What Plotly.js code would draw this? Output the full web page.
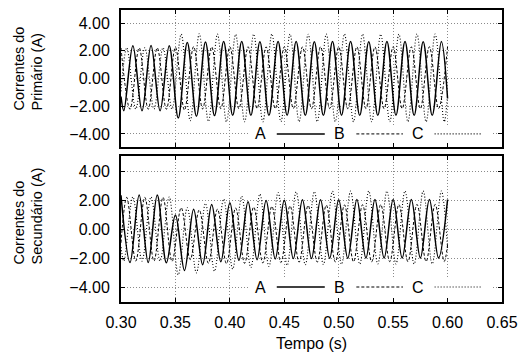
<!DOCTYPE html>
<html><head><meta charset="utf-8">
<script src="https://cdn.plot.ly/plotly-3.0.1.min.js"></script>
<style>html,body{margin:0;padding:0;background:#fff}#chart{width:520px;height:360px}</style>
</head><body><div id="chart"></div>
<script>
// Times (s) of the waveform extrema, plus the record ends
const timesG1 = [0.3000, 0.3026, 0.3109, 0.3193, 0.3276, 0.3359, 0.3443, 0.3526, 0.3609, 0.3693, 0.3776, 0.3859, 0.3943, 0.4026, 0.4109, 0.4193, 0.4276, 0.4359, 0.4443, 0.4526, 0.4609, 0.4693, 0.4776, 0.4859, 0.4943, 0.5026, 0.5109, 0.5193, 0.5276, 0.5359, 0.5443, 0.5526, 0.5609, 0.5693, 0.5776, 0.5859, 0.5943, 0.6000];
const timesG2 = [0.3000, 0.3083, 0.3167, 0.3250, 0.3333, 0.3417, 0.3500, 0.3583, 0.3667, 0.3750, 0.3833, 0.3917, 0.4000, 0.4083, 0.4167, 0.4250, 0.4333, 0.4417, 0.4500, 0.4583, 0.4667, 0.4750, 0.4833, 0.4917, 0.5000, 0.5083, 0.5167, 0.5250, 0.5333, 0.5417, 0.5500, 0.5583, 0.5667, 0.5750, 0.5833, 0.5917, 0.6000];
const timesG3 = [0.3000, 0.3053, 0.3136, 0.3219, 0.3303, 0.3386, 0.3469, 0.3553, 0.3636, 0.3719, 0.3803, 0.3886, 0.3969, 0.4053, 0.4136, 0.4219, 0.4303, 0.4386, 0.4469, 0.4553, 0.4636, 0.4719, 0.4803, 0.4886, 0.4969, 0.5053, 0.5136, 0.5219, 0.5303, 0.5386, 0.5469, 0.5553, 0.5636, 0.5719, 0.5803, 0.5886, 0.5969, 0.6000];

// Primary currents (A)
const primA = [-1.30, -2.32, 2.36, -2.33, 2.37, -2.33, 2.36, -2.85, 2.60, -2.72, 2.64, -2.68, 2.66, -2.66, 2.66, -2.66, 2.65, -2.66, 2.66, -2.65, 2.66, -2.66, 2.65, -2.66, 2.66, -2.65, 2.66, -2.66, 2.65, -2.66, 2.66, -2.65, 2.66, -2.66, 2.65, -2.66, 2.66, -1.45];
const primB = [2.20, -2.22, 2.21, -2.22, 2.21, -2.22, 2.25, -2.28, 2.30, -2.20, 2.28, -2.18, 2.28, -2.18, 2.29, -2.17, 2.28, -2.18, 2.29, -2.17, 2.28, -2.18, 2.29, -2.17, 2.28, -2.18, 2.29, -2.17, 2.28, -2.18, 2.29, -2.17, 2.28, -2.18, 2.29, -2.17, 2.28];
const primC = [-0.93, 2.22, -2.20, 2.22, -2.20, 2.22, -2.22, 3.20, -3.05, 3.22, -3.10, 3.20, -3.12, 3.18, -3.12, 3.20, -3.12, 3.21, -3.11, 3.20, -3.12, 3.19, -3.12, 3.20, -3.11, 3.21, -3.12, 3.20, -3.12, 3.19, -3.11, 3.20, -3.12, 3.21, -3.12, 3.20, -3.12, -1.20];

// Secondary currents (A)
const secA = [2.36, -2.30, 2.38, -2.30, 2.38, -2.32, 1.00, -2.85, 1.40, -2.45, 1.72, -2.25, 1.85, -2.15, 1.92, -2.10, 2.00, -2.05, 2.02, -2.03, 2.05, -2.02, 2.06, -2.00, 2.06, -2.00, 2.07, -1.99, 2.07, -1.99, 2.07, -1.99, 2.07, -1.99, 2.07, -1.99, 2.07];
const secB = [-0.93, 2.22, -2.20, 2.22, -2.20, 2.22, -2.22, 1.50, -2.10, 1.35, -2.35, 1.40, -2.38, 1.48, -2.36, 1.55, -2.33, 1.60, -2.30, 1.63, -2.28, 1.66, -2.27, 1.68, -2.26, 1.70, -2.25, 1.71, -2.25, 1.72, -2.24, 1.72, -2.24, 1.73, -2.23, 1.73, -2.23, -1.05];
const secC = [-1.23, -2.20, 2.25, -2.20, 2.25, -2.20, 2.25, -3.15, 1.50, -3.02, 1.80, -2.90, 2.10, -2.75, 2.30, -2.65, 2.45, -2.57, 2.55, -2.50, 2.60, -2.46, 2.62, -2.44, 2.64, -2.42, 2.65, -2.41, 2.66, -2.40, 2.66, -2.40, 2.66, -2.40, 2.66, -2.40, 2.66, -1.30];

const phaseNames = ['A', 'B', 'C'];
const xTickVals = [0.30, 0.35, 0.40, 0.45, 0.50, 0.55, 0.60, 0.65];
const yTickVals = [-4, -2, 0, 2, 4];
const yTitleTop = 'Correntes do<br>Primário (A)';
const yTitleBottom = 'Correntes do<br>Secundário (A)';
const xTitle = 'Tempo (s)';

const FONT = 'Liberation Sans, Arial, Helvetica, sans-serif';
const styles = [
  {color: '#000', width: 1.5, dash: 'solid'},
  {color: '#000', width: 1.0, dash: '3px,2px'},
  {color: '#000', width: 1.1, dash: '1px,2px'}
];

function tr(x, y, s, xa, ya) {
  return {x: x, y: y, type: 'scatter', mode: 'lines', xaxis: xa, yaxis: ya,
    line: Object.assign({shape: 'spline', smoothing: 1}, s), showlegend: false, hoverinfo: 'skip'};
}

const data = [
  tr(timesG3, primC, styles[2], 'x2', 'y2'),
  tr(timesG2, primB, styles[1], 'x2', 'y2'),
  tr(timesG1, primA, styles[0], 'x2', 'y2'),
  tr(timesG1, secC, styles[2], 'x', 'y'),
  tr(timesG3, secB, styles[1], 'x', 'y'),
  tr(timesG2, secA, styles[0], 'x', 'y')
];

const baseX = {
  range: [0.30, 0.65], tickvals: xTickVals, tickformat: '.2f',
  ticks: 'inside', ticklen: 4, tickwidth: 1, tickcolor: '#000',
  showline: true, linewidth: 2, linecolor: '#000', mirror: 'ticks',
  showgrid: true, gridcolor: '#8a8a8a', griddash: '1px,2px', gridwidth: 1,
  zeroline: false, tickfont: {family: FONT, size: 16, color: '#000'}
};
const baseY = {
  tickvals: yTickVals, tickformat: '.2f',
  ticks: 'inside', ticklen: 4, tickwidth: 1, tickcolor: '#000',
  showline: true, linewidth: 2, linecolor: '#000', mirror: 'ticks',
  showgrid: true, gridcolor: '#8a8a8a', griddash: '1px,2px', gridwidth: 1,
  zeroline: false, tickfont: {family: FONT, size: 16, color: '#000'},
  ticklabelstandoff: 6
};

// legend layout (positions in data units of each panel)
const legTextX = [0.4284, 0.5003, 0.5728];
const legLineX = [[0.4431, 0.4872], [0.5162, 0.5590], [0.5881, 0.6309]];
const legY = -4.0;

const shapes = [];
const annotations = [];
[['x2', 'y2'], ['x', 'y']].forEach(function (ax) {
  shapes.push({type: 'rect', xref: ax[0], yref: ax[1], x0: 0.4183, x1: 0.6404, y0: -5.2, y1: -3.4,
    fillcolor: '#fff', line: {width: 0}, layer: 'between'});
  for (let i = 0; i < 3; i++) {
    shapes.push({type: 'line', xref: ax[0], yref: ax[1], x0: legLineX[i][0], x1: legLineX[i][1], y0: legY, y1: legY,
      line: {color: '#000', width: styles[i].width, dash: styles[i].dash}, layer: 'above'});
    annotations.push({xref: ax[0], yref: ax[1], x: legTextX[i], y: legY, text: phaseNames[i], showarrow: false,
      xanchor: 'center', yanchor: 'middle', font: {family: FONT, size: 16, color: '#000'}});
  }
});
annotations.push({xref: 'paper', yref: 'paper', x: -0.244, y: 0.80, text: yTitleTop, textangle: -90,
  align: 'left', showarrow: false, xanchor: 'center', yanchor: 'middle', font: {family: FONT, size: 14.5, color: '#000'}});
annotations.push({xref: 'paper', yref: 'paper', x: -0.244, y: 0.293, text: yTitleBottom, textangle: -90,
  align: 'left', showarrow: false, xanchor: 'center', yanchor: 'middle', font: {family: FONT, size: 14.5, color: '#000'}});

const layout = {
  width: 520, height: 360,
  margin: {l: 121, r: 18, t: 10, b: 58},
  paper_bgcolor: '#fff', plot_bgcolor: '#fff',
  showlegend: false,
  xaxis: Object.assign({}, baseX, {anchor: 'y', title: {text: xTitle, font: {family: FONT, size: 16, color: '#000'}, standoff: 8}, ticklabelstandoff: 5}),
  xaxis2: Object.assign({}, baseX, {anchor: 'y2', matches: 'x', showticklabels: false}),
  yaxis: Object.assign({}, baseY, {domain: [0, 0.5], range: [-5.04, 5.09], anchor: 'x'}),
  yaxis2: Object.assign({}, baseY, {domain: [0.531, 1], range: [-4.94, 4.94], anchor: 'x2'}),
  shapes: shapes,
  annotations: annotations
};

Plotly.newPlot('chart', data, layout, {staticPlot: true, displayModeBar: false});
</script>
</body></html>
